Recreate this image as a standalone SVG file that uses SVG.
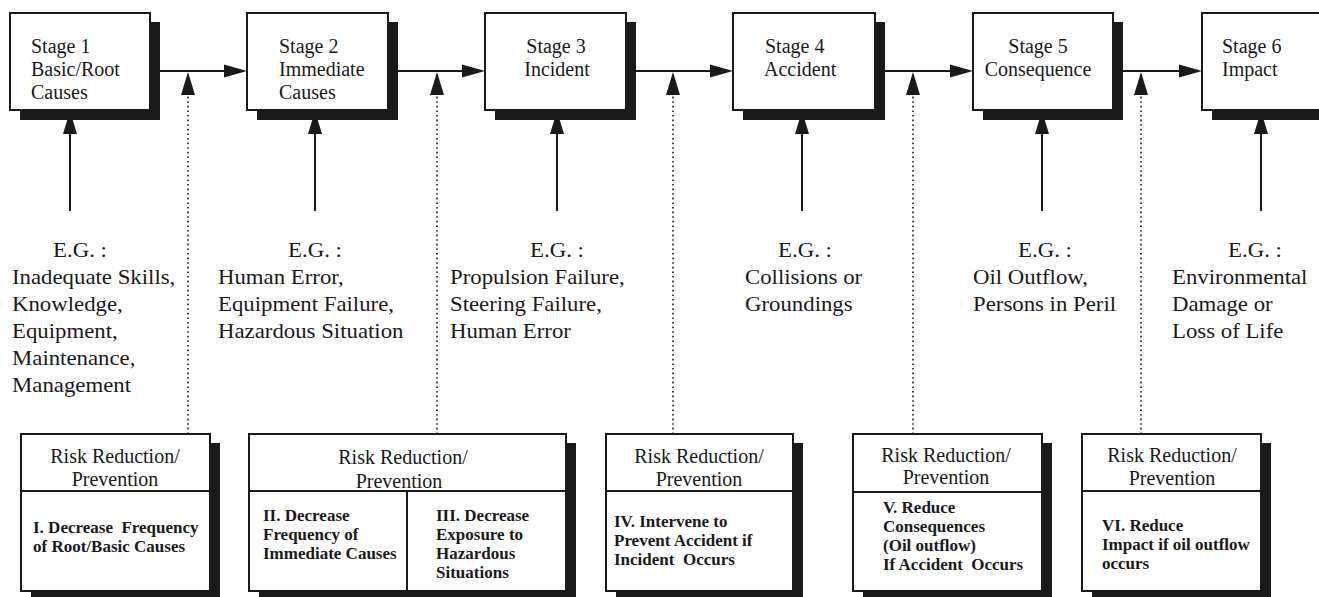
<svg xmlns="http://www.w3.org/2000/svg" width="1319" height="597" viewBox="0 0 1319 597">
<defs>
<style>
.bg{fill:#ffffff}
.box{fill:#ffffff;stroke:#1a1a1a;stroke-width:2}
.shadow{fill:#1a1a1a}
.line{stroke:#1a1a1a;stroke-width:2;fill:none}
.dot{stroke:#1a1a1a;stroke-width:1.6;stroke-dasharray:1.6 3;fill:none}
.head{fill:#1a1a1a}
.t{font-family:"Liberation Serif","Times New Roman",serif;font-size:20px;fill:#1a1a1a}
.eg{font-family:"Liberation Serif","Times New Roman",serif;font-size:20px;fill:#1a1a1a}
.c{text-anchor:middle}
.b{font-family:"Liberation Serif","Times New Roman",serif;font-size:17px;font-weight:bold;fill:#1a1a1a}
</style>
</defs>
<rect class="bg" x="0" y="0" width="1319" height="597"/>

<g id="connectors">
  <line class="line" x1="150" y1="71" x2="226" y2="71"/>
  <polygon class="head" points="247,71 224,64.5 224,77.5"/>
  <line class="line" x1="388" y1="71" x2="464" y2="71"/>
  <polygon class="head" points="485,71 462,64.5 462,77.5"/>
  <line class="line" x1="626" y1="71" x2="712" y2="71"/>
  <polygon class="head" points="733,71 710,64.5 710,77.5"/>
  <line class="line" x1="875" y1="71" x2="952" y2="71"/>
  <polygon class="head" points="973,71 950,64.5 950,77.5"/>
  <line class="line" x1="1113" y1="71" x2="1181" y2="71"/>
  <polygon class="head" points="1202,71 1179,64.5 1179,77.5"/>
  <line class="dot" x1="188" y1="434" x2="188" y2="96"/>
  <polygon class="head" points="188,72 181,95 195,95"/>
  <line class="dot" x1="437" y1="434" x2="437" y2="96"/>
  <polygon class="head" points="437,72 430,95 444,95"/>
  <line class="dot" x1="673" y1="434" x2="673" y2="96"/>
  <polygon class="head" points="673,72 666,95 680,95"/>
  <line class="dot" x1="913" y1="434" x2="913" y2="96"/>
  <polygon class="head" points="913,72 906,95 920,95"/>
  <line class="dot" x1="1141" y1="434" x2="1141" y2="96"/>
  <polygon class="head" points="1141,72 1134,95 1148,95"/>
  <line class="line" x1="70" y1="211" x2="70" y2="130"/>
  <polygon class="head" points="70,111 63,134 77,134"/>
  <line class="line" x1="315" y1="211" x2="315" y2="130"/>
  <polygon class="head" points="315,111 308,134 322,134"/>
  <line class="line" x1="557" y1="211" x2="557" y2="130"/>
  <polygon class="head" points="557,111 550,134 564,134"/>
  <line class="line" x1="802" y1="211" x2="802" y2="130"/>
  <polygon class="head" points="802,111 795,134 809,134"/>
  <line class="line" x1="1042" y1="211" x2="1042" y2="130"/>
  <polygon class="head" points="1042,111 1035,134 1049,134"/>
  <line class="line" x1="1261" y1="211" x2="1261" y2="130"/>
  <polygon class="head" points="1261,111 1254,134 1268,134"/>
</g>

<g id="stage1">
  <rect class="shadow" x="20" y="22" width="140" height="98"/>
  <rect class="box" x="10" y="13" width="140" height="97"/>
  <text class="t" x="31" y="53">Stage 1</text>
  <text class="t" x="31" y="76">Basic/Root</text>
  <text class="t" x="31" y="99">Causes</text>
</g>
<g id="stage2">
  <rect class="shadow" x="257" y="22" width="141" height="98"/>
  <rect class="box" x="247" y="13" width="141" height="97"/>
  <text class="t" x="279" y="53">Stage 2</text>
  <text class="t" x="279" y="76">Immediate</text>
  <text class="t" x="279" y="99">Causes</text>
</g>
<g id="stage3">
  <rect class="shadow" x="495" y="22" width="141" height="98"/>
  <rect class="box" x="485" y="13" width="141" height="97"/>
  <text class="t c" x="556" y="53">Stage 3</text>
  <text class="t c" x="557" y="76">Incident</text>
</g>
<g id="stage4">
  <rect class="shadow" x="743" y="22" width="142" height="98"/>
  <rect class="box" x="733" y="13" width="142" height="97"/>
  <text class="t" x="765" y="53">Stage 4</text>
  <text class="t" x="764" y="76">Accident</text>
</g>
<g id="stage5">
  <rect class="shadow" x="983" y="22" width="140" height="98"/>
  <rect class="box" x="973" y="13" width="140" height="97"/>
  <text class="t c" x="1038" y="53">Stage 5</text>
  <text class="t c" x="1038" y="76">Consequence</text>
</g>
<g id="stage6">
  <rect class="shadow" x="1212" y="22" width="140" height="98"/>
  <rect class="box" x="1202" y="13" width="140" height="97"/>
  <text class="t" x="1222" y="53">Stage 6</text>
  <text class="t" x="1222" y="76">Impact</text>
</g>

<g id="eg1">
  <text class="eg c" transform="translate(80,257) scale(1.14,1)">E.G. :</text>
  <text class="eg" transform="translate(12,284) scale(1.14,1)">Inadequate Skills,</text>
  <text class="eg" transform="translate(12,311) scale(1.14,1)">Knowledge,</text>
  <text class="eg" transform="translate(12,338) scale(1.14,1)">Equipment,</text>
  <text class="eg" transform="translate(12,365) scale(1.14,1)">Maintenance,</text>
  <text class="eg" transform="translate(12,392) scale(1.14,1)">Management</text>
</g>
<g id="eg2">
  <text class="eg c" transform="translate(315,257) scale(1.14,1)">E.G. :</text>
  <text class="eg" transform="translate(218,284) scale(1.14,1)">Human Error,</text>
  <text class="eg" transform="translate(218,311) scale(1.14,1)">Equipment Failure,</text>
  <text class="eg" transform="translate(218,338) scale(1.14,1)">Hazardous Situation</text>
</g>
<g id="eg3">
  <text class="eg c" transform="translate(557,257) scale(1.14,1)">E.G. :</text>
  <text class="eg" transform="translate(450,284) scale(1.14,1)">Propulsion Failure,</text>
  <text class="eg" transform="translate(450,311) scale(1.14,1)">Steering Failure,</text>
  <text class="eg" transform="translate(450,338) scale(1.14,1)">Human Error</text>
</g>
<g id="eg4">
  <text class="eg c" transform="translate(805,257) scale(1.14,1)">E.G. :</text>
  <text class="eg" transform="translate(745,284) scale(1.14,1)">Collisions or</text>
  <text class="eg" transform="translate(745,311) scale(1.14,1)">Groundings</text>
</g>
<g id="eg5">
  <text class="eg c" transform="translate(1045,257) scale(1.14,1)">E.G. :</text>
  <text class="eg" transform="translate(973,284) scale(1.14,1)">Oil Outflow,</text>
  <text class="eg" transform="translate(973,311) scale(1.14,1)">Persons in Peril</text>
</g>
<g id="eg6">
  <text class="eg c" transform="translate(1255,257) scale(1.14,1)">E.G. :</text>
  <text class="eg" transform="translate(1172,284) scale(1.14,1)">Environmental</text>
  <text class="eg" transform="translate(1172,311) scale(1.14,1)">Damage or</text>
  <text class="eg" transform="translate(1172,338) scale(1.14,1)">Loss of Life</text>
</g>

<g id="risk1">
  <rect class="shadow" x="31" y="443" width="189" height="160"/>
  <rect class="box" x="21" y="434" width="189" height="157"/>
  <line class="line" x1="21" y1="491" x2="210" y2="491"/>
  <text class="t c" x="115" y="463">Risk Reduction/</text>
  <text class="t c" x="115" y="486">Prevention</text>
  <text class="b" x="33" y="533" xml:space="preserve">I. Decrease  Frequency</text>
  <text class="b" x="33" y="552">of Root/Basic Causes</text>
</g>
<g id="risk2">
  <rect class="shadow" x="259" y="443" width="317" height="160"/>
  <rect class="box" x="249" y="434" width="317" height="157"/>
  <line class="line" x1="249" y1="491" x2="566" y2="491"/>
  <line class="line" x1="407" y1="491" x2="407" y2="591"/>
  <text class="t c" x="403" y="464">Risk Reduction/</text>
  <text class="t c" x="399" y="488">Prevention</text>
  <text class="b" x="263" y="521">II. Decrease</text>
  <text class="b" x="263" y="540">Frequency of</text>
  <text class="b" x="263" y="559">Immediate Causes</text>
  <text class="b" x="436" y="521">III. Decrease</text>
  <text class="b" x="436" y="540">Exposure to</text>
  <text class="b" x="436" y="559">Hazardous</text>
  <text class="b" x="436" y="578">Situations</text>
</g>
<g id="risk3">
  <rect class="shadow" x="616" y="443" width="187" height="160"/>
  <rect class="box" x="606" y="434" width="187" height="157"/>
  <line class="line" x1="606" y1="491" x2="793" y2="491"/>
  <text class="t c" x="699" y="463">Risk Reduction/</text>
  <text class="t c" x="699" y="486">Prevention</text>
  <text class="b" x="614" y="527">IV. Intervene to</text>
  <text class="b" x="614" y="546">Prevent Accident if</text>
  <text class="b" x="614" y="565" xml:space="preserve">Incident  Occurs</text>
</g>
<g id="risk4">
  <rect class="shadow" x="863" y="443" width="189" height="160"/>
  <rect class="box" x="853" y="434" width="189" height="157"/>
  <line class="line" x1="853" y1="492" x2="1042" y2="492"/>
  <text class="t c" x="946" y="462">Risk Reduction/</text>
  <text class="t c" x="946" y="484">Prevention</text>
  <text class="b" x="883" y="513">V. Reduce</text>
  <text class="b" x="883" y="532">Consequences</text>
  <text class="b" x="883" y="551">(Oil outflow)</text>
  <text class="b" x="883" y="570" xml:space="preserve">If Accident  Occurs</text>
</g>
<g id="risk5">
  <rect class="shadow" x="1092" y="443" width="179" height="160"/>
  <rect class="box" x="1082" y="434" width="179" height="157"/>
  <line class="line" x1="1082" y1="491" x2="1261" y2="491"/>
  <text class="t c" x="1172" y="462">Risk Reduction/</text>
  <text class="t c" x="1172" y="485">Prevention</text>
  <text class="b" x="1102" y="531">VI. Reduce</text>
  <text class="b" x="1102" y="550">Impact if oil outflow</text>
  <text class="b" x="1102" y="569">occurs</text>
</g>
</svg>
